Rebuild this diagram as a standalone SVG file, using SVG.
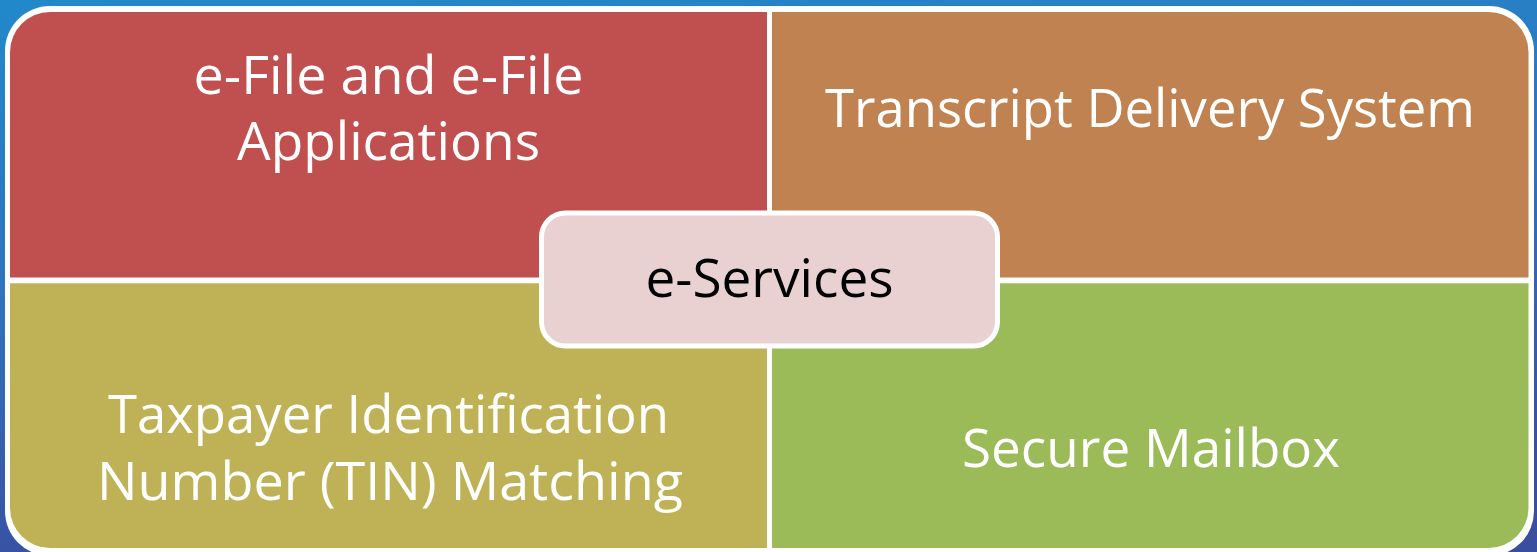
<svg xmlns="http://www.w3.org/2000/svg" width="1537" height="552" viewBox="0 0 1537 552">
  <defs>
    <linearGradient id="bg" x1="0" y1="0" x2="0.25" y2="1">
      <stop offset="0" stop-color="#2189CA"/>
      <stop offset="0.5" stop-color="#2F74BE"/>
      <stop offset="1" stop-color="#3A4EA0"/>
    </linearGradient>
    <clipPath id="inner">
      <rect x="10" y="12" width="1518.5" height="536" rx="40" ry="40"/>
    </clipPath>
  </defs>
  <style>
    .lbl { font-family: "Open Sans", "Noto Sans", "Liberation Sans", sans-serif; font-size: 53px; fill: #FFFFFF; text-anchor: middle; }
    .ctr { fill: #000000; }
  </style>
  <rect x="0" y="0" width="1537" height="552" fill="url(#bg)"/>
  <rect x="5" y="6" width="1529" height="550" rx="45" ry="45" fill="#FFFFFF"/>
  <g clip-path="url(#inner)">
    <g id="node-efile">
      <rect x="10" y="12" width="757" height="265.5" fill="#C0504F"/>
      <text class="lbl" x="388.5" y="94" textLength="390" lengthAdjust="spacingAndGlyphs">e-File and e-File</text>
      <text class="lbl" x="388.5" y="160" textLength="303" lengthAdjust="spacingAndGlyphs">Applications</text>
    </g>
    <g id="node-transcript">
      <rect x="772" y="12" width="757" height="265.5" fill="#BF8250"/>
      <text class="lbl" x="1150" y="127" textLength="650" lengthAdjust="spacingAndGlyphs">Transcript Delivery System</text>
    </g>
    <g id="node-tin">
      <rect x="10" y="283.3" width="757" height="266" fill="#BFB256"/>
      <text class="lbl" x="388.5" y="433" textLength="561" lengthAdjust="spacingAndGlyphs">Taxpayer Identification</text>
      <text class="lbl" x="390" y="500" textLength="586" lengthAdjust="spacingAndGlyphs">Number (TIN) Matching</text>
    </g>
    <g id="node-mailbox">
      <rect x="772" y="283.3" width="757" height="266" fill="#9BBB59"/>
      <text class="lbl" x="1151" y="467" textLength="378" lengthAdjust="spacingAndGlyphs">Secure Mailbox</text>
    </g>
  </g>
  <g id="node-eservices">
    <rect x="541.5" y="213" width="456" height="133" rx="24" ry="24" fill="#E9D1D2" stroke="#FFFFFF" stroke-width="5"/>
    <text class="lbl ctr" x="769.5" y="297" textLength="248" lengthAdjust="spacingAndGlyphs">e-Services</text>
  </g>
</svg>
